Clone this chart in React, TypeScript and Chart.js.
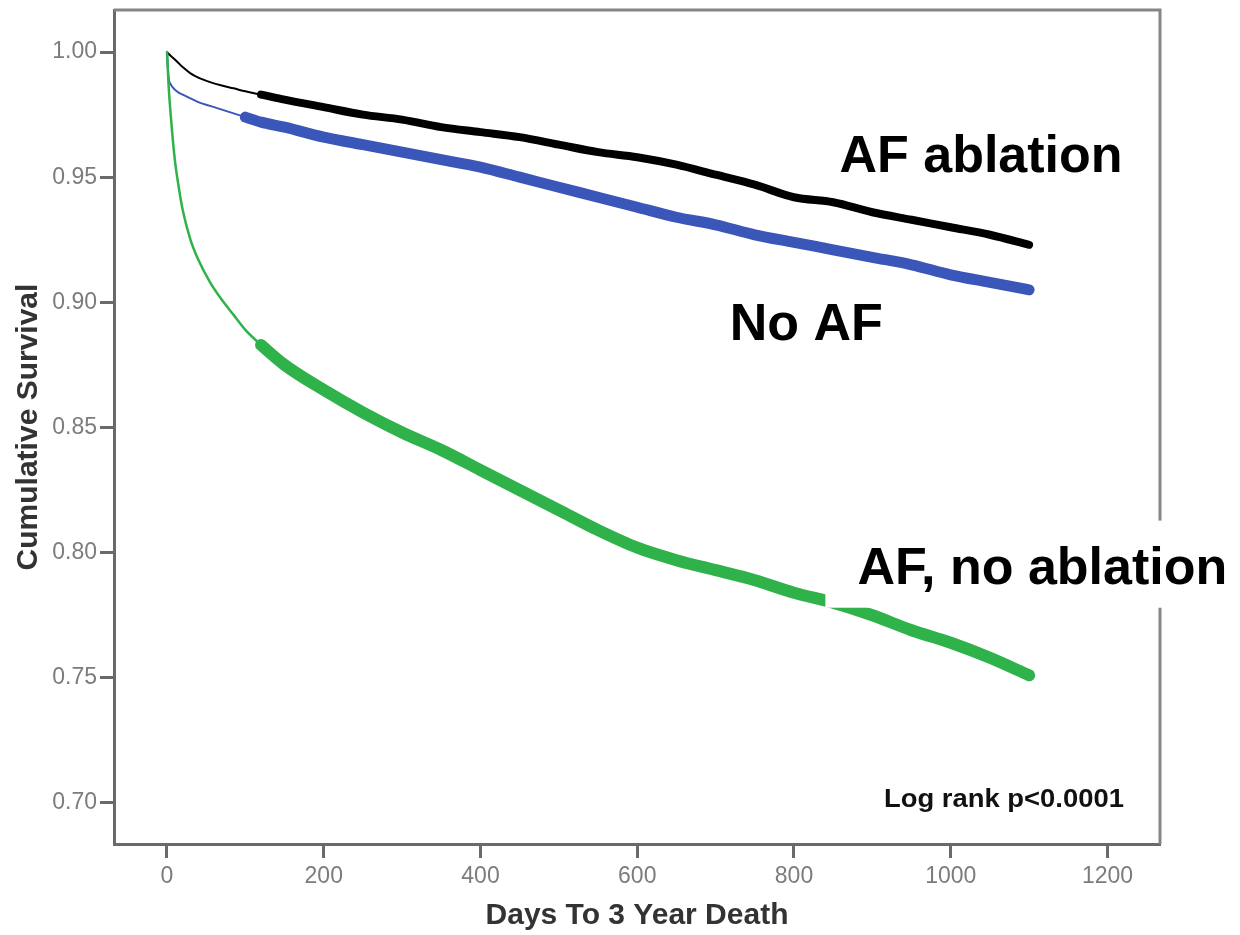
import { useEffect, useRef } from 'react';
import { Chart, registerables } from 'chart.js';

Chart.register(...registerables);

// ---- data ----
const DAYS = [0, 2, 5, 10, 15, 20, 30, 40, 55, 70, 85, 100, 120, 150, 200, 250, 300, 350, 400, 450, 500, 550, 600, 650, 700, 750, 800, 850, 900, 950, 1000, 1050, 1100];

const AF_ABLATION = [1.000, 0.9993, 0.9984, 0.997, 0.9955, 0.994, 0.9915, 0.9898, 0.988, 0.9866, 0.9855, 0.9843, 0.983, 0.981, 0.978, 0.975, 0.973, 0.970, 0.968, 0.966, 0.963, 0.960, 0.958, 0.955, 0.951, 0.947, 0.942, 0.940, 0.936, 0.933, 0.930, 0.927, 0.923];

const NO_AF = [1.000, 0.990, 0.987, 0.985, 0.9838, 0.983, 0.9815, 0.980, 0.9785, 0.977, 0.9755, 0.974, 0.972, 0.970, 0.966, 0.963, 0.960, 0.957, 0.954, 0.950, 0.946, 0.942, 0.938, 0.934, 0.931, 0.927, 0.924, 0.921, 0.918, 0.915, 0.911, 0.908, 0.905];

const AF_NO_ABLATION = [1.000, 0.987, 0.974, 0.957, 0.946, 0.937, 0.925, 0.917, 0.908, 0.901, 0.895, 0.889, 0.883, 0.875, 0.865, 0.856, 0.848, 0.841, 0.833, 0.825, 0.817, 0.809, 0.802, 0.797, 0.793, 0.789, 0.784, 0.780, 0.775, 0.769, 0.764, 0.758, 0.751];

const SERIES_LABELS = ['AF ablation', 'No AF', 'AF, no ablation'];
const X_TICKS = [0, 200, 400, 600, 800, 1000, 1200];
const Y_TICKS = [0.70, 0.75, 0.80, 0.85, 0.90, 0.95, 1.00];
const X_TITLE = 'Days To 3 Year Death';
const Y_TITLE = 'Cumulative Survival';
const NOTE = 'Log rank p<0.0001';

const FONT = "'Liberation Sans', Arial, Helvetica, sans-serif";

export default function App() {
  const canvasRef = useRef<HTMLCanvasElement | null>(null);

  useEffect(() => {
    const canvas = canvasRef.current;
    if (!canvas) return;

    const mk = (vals: number[]) => DAYS.map((d, i) => ({ x: d, y: vals[i] }));

    const lineDs = (label: string, vals: number[], color: string, thin: number, thick: number, thickFrom: number) => ({
      label,
      data: mk(vals),
      borderColor: color,
      backgroundColor: color,
      borderWidth: thin,
      pointRadius: 0,
      pointHoverRadius: 0,
      cubicInterpolationMode: 'monotone' as const,
      borderCapStyle: 'round' as const,
      borderJoinStyle: 'round' as const,
      fill: false,
      segment: {
        borderWidth: (c: any) => (c.p0.parsed.x >= thickFrom ? thick : thin),
      },
    });

    const decorPlugin = {
      id: 'decor',
      beforeDatasetsDraw(chart: any) {
        const { ctx, chartArea } = chart;
        ctx.save();
        ctx.strokeStyle = '#858585';
        ctx.lineWidth = 3;
        ctx.beginPath();
        ctx.moveTo(chartArea.left, chartArea.top);
        ctx.lineTo(chartArea.right, chartArea.top);
        ctx.lineTo(chartArea.right, chartArea.bottom);
        ctx.stroke();
        ctx.restore();
      },
      afterDraw(chart: any) {
        const { ctx } = chart;
        const xs = chart.scales.x;
        const ys = chart.scales.y;
        const px = (v: number) => xs.getPixelForValue(v);
        const py = (v: number) => ys.getPixelForValue(v);
        ctx.save();
        // white label boxes
        ctx.fillStyle = '#ffffff';
        const box = (x0: number, x1: number, y0: number, y1: number) => {
          ctx.fillRect(px(x0), py(y0), px(x1) - px(x0), py(y1) - py(y0));
        };
        box(823, 1263, 0.9736, 0.9434);
        box(840, 1380, 0.8128, 0.7780);

        ctx.fillStyle = '#000000';
        ctx.textBaseline = 'alphabetic';
        ctx.textAlign = 'left';
        ctx.font = `bold 52px ${FONT}`;
        ctx.fillText(SERIES_LABELS[0], px(858), py(0.952));
        ctx.fillText(SERIES_LABELS[1], px(718), py(0.8848));
        ctx.fillText(SERIES_LABELS[2], px(881), py(0.7876));

        // log rank note (condensed bold)
        ctx.font = `bold 25px ${FONT}`;
        const w = ctx.measureText(NOTE).width;
        const targetW = 240;
        const right = px(1221);
        ctx.translate(right - targetW, py(0.6984));
        ctx.scale(targetW / w, 1);
        ctx.fillStyle = '#111111';
        ctx.fillText(NOTE, 0, 0);
        ctx.restore();
      },
    };

    const chart = new Chart(canvas, {
      type: 'line',
      data: {
        datasets: [
          lineDs(SERIES_LABELS[2], AF_NO_ABLATION, '#2fb24a', 2.5, 12, 120),
          lineDs(SERIES_LABELS[1], NO_AF, '#3a56b8', 2, 11, 100),
          lineDs(SERIES_LABELS[0], AF_ABLATION, '#000000', 2, 8, 120),
        ],
      },
      options: {
        animation: false,
        responsive: false,
        events: [],
        layout: { padding: { top: 10, right: 80, left: 0, bottom: 0 } },
        plugins: {
          legend: { display: false },
          tooltip: { enabled: false },
          title: { display: false },
        },
        scales: {
          x: {
            type: 'linear',
            min: -67.6,
            max: 1267,
            afterFit: (s: any) => {
              s.height = 91;
              s.paddingLeft = 0;
              s.paddingRight = 0;
            },
            afterBuildTicks: (s: any) => { s.ticks = X_TICKS.map((v) => ({ value: v })); },
            ticks: {
              color: '#7c7c7c',
              font: { family: FONT, size: 23 },
              padding: 5,
              maxRotation: 0,
              autoSkip: false,
              callback: (v: any) => String(v),
            },
            grid: {
              display: true,
              drawOnChartArea: false,
              drawTicks: true,
              tickLength: 14,
              tickWidth: 3,
              tickColor: '#6a6a6a',
            },
            border: { display: true, color: '#6a6a6a', width: 3 },
            title: {
              display: true,
              text: X_TITLE,
              color: '#333333',
              font: { family: FONT, size: 30, weight: 'bold' },
              padding: { top: 0, bottom: 1 },
            },
          },
          y: {
            type: 'linear',
            min: 0.6836,
            max: 1.0168,
            afterFit: (s: any) => {
              s.width = 114;
              s.paddingTop = 0;
              s.paddingBottom = 0;
            },
            afterBuildTicks: (s: any) => { s.ticks = Y_TICKS.map((v) => ({ value: v })); },
            ticks: {
              color: '#7c7c7c',
              font: { family: FONT, size: 23 },
              padding: 3,
              autoSkip: false,
              callback: (v: any) => Number(v).toFixed(2),
            },
            grid: {
              display: true,
              drawOnChartArea: false,
              drawTicks: true,
              tickLength: 14,
              tickWidth: 3,
              tickColor: '#6a6a6a',
            },
            border: { display: true, color: '#6a6a6a', width: 3 },
            title: {
              display: true,
              text: Y_TITLE,
              color: '#333333',
              font: { family: FONT, size: 30, weight: 'bold' },
              padding: { top: 11, bottom: 0 },
            },
          },
        },
      },
      plugins: [decorPlugin],
    });

    return () => chart.destroy();
  }, []);

  return (
    <div style={{ position: 'absolute', left: 0, top: 0, width: 1240, height: 935, background: '#ffffff' }}>
      <canvas ref={canvasRef} width={1240} height={935} style={{ display: 'block', width: 1240, height: 935 }} />
    </div>
  );
}
